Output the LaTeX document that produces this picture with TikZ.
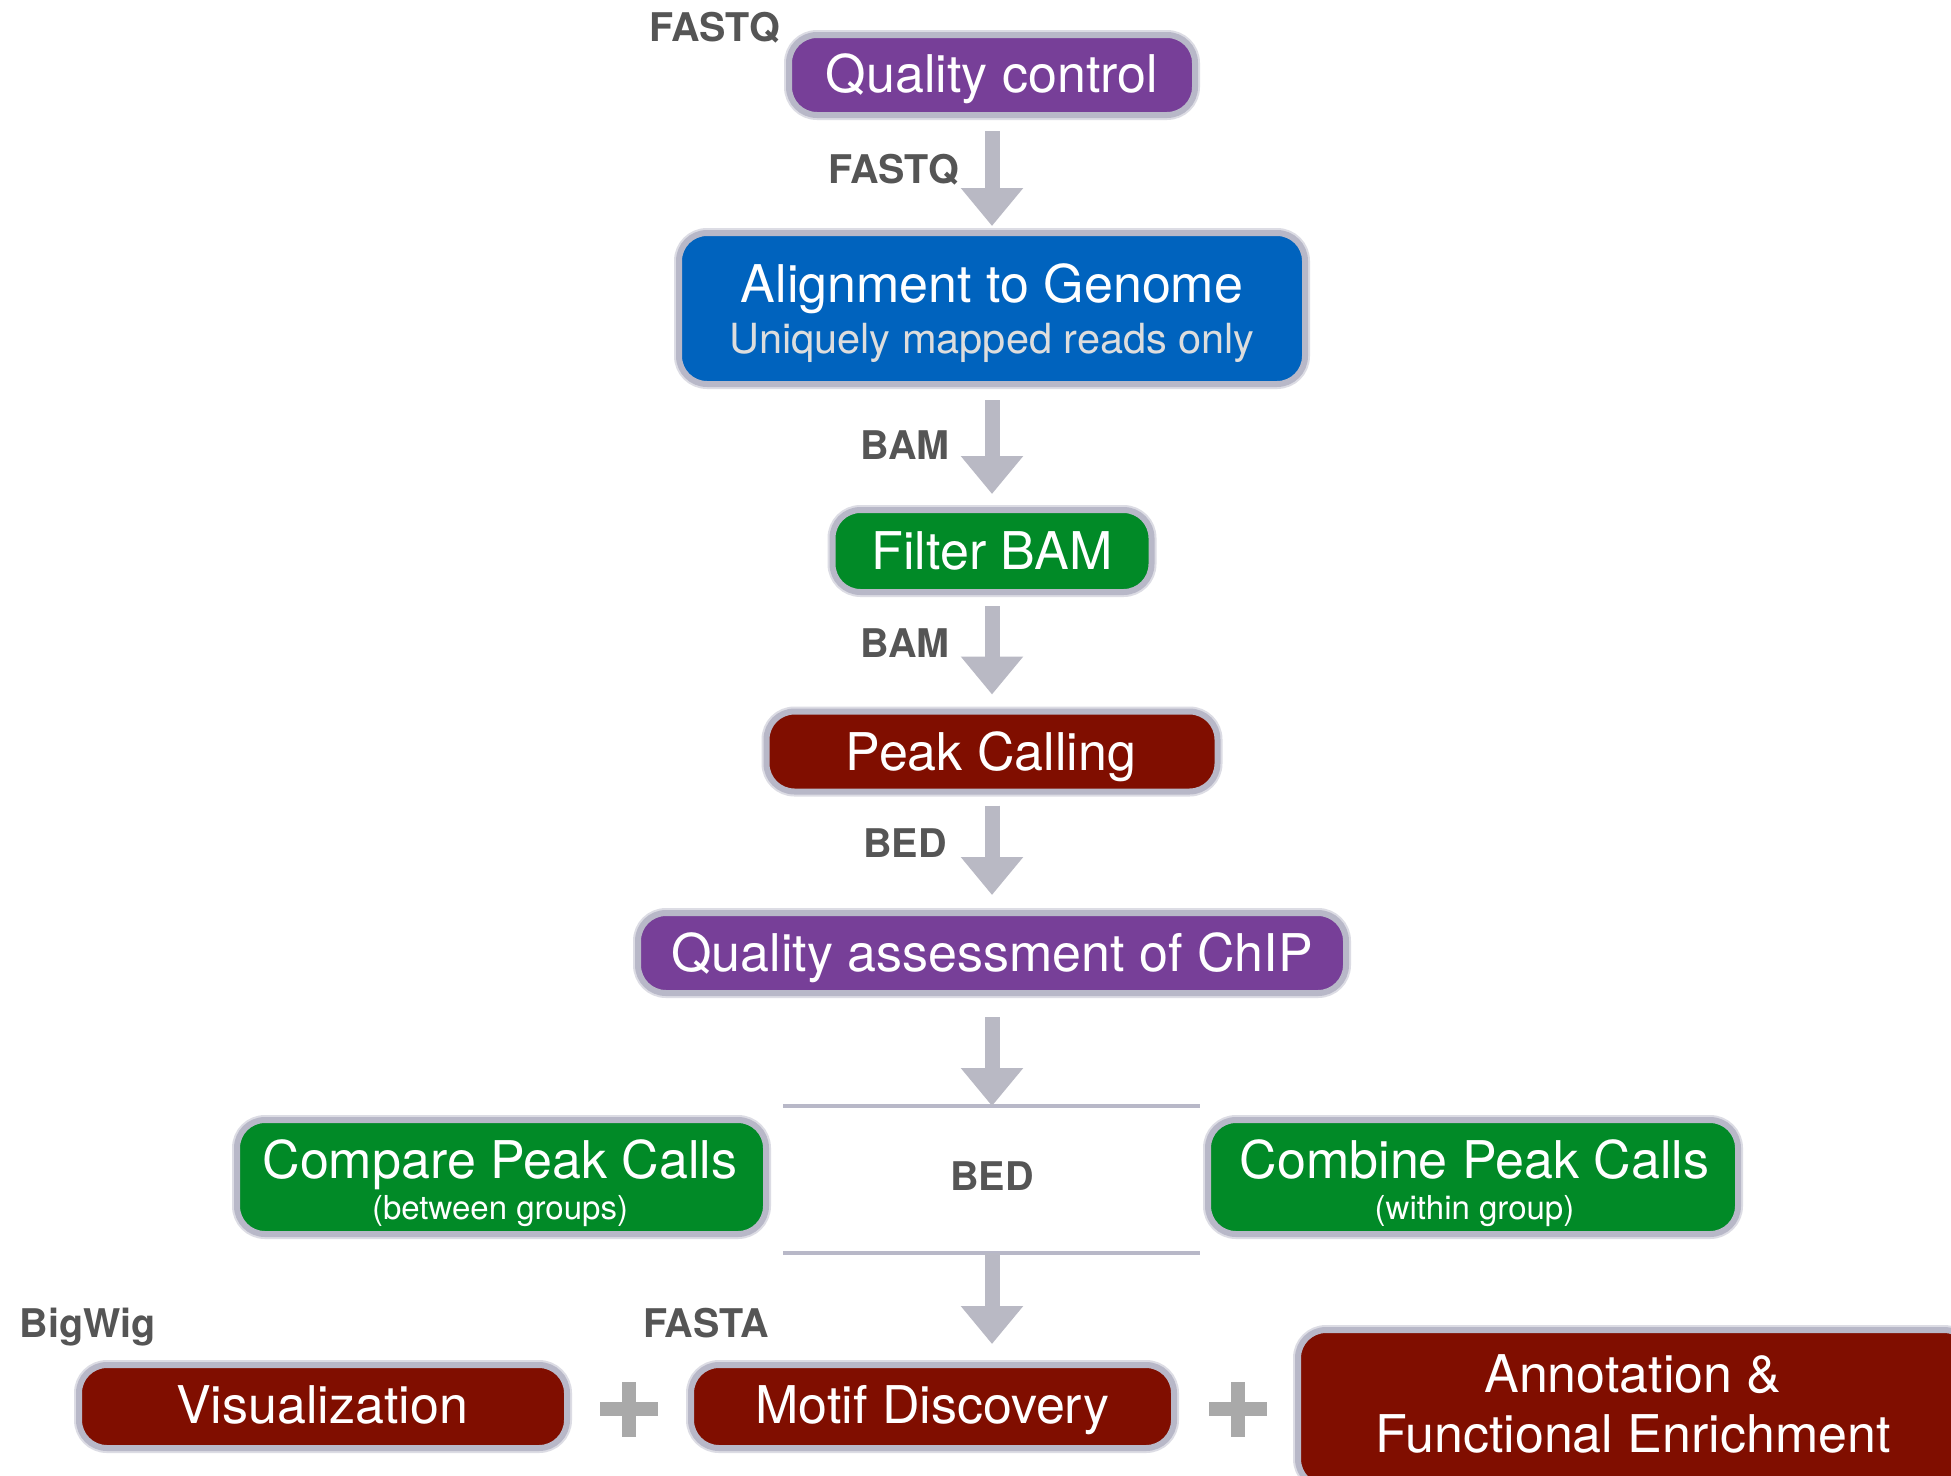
\documentclass[tikz,border=0pt]{standalone}
\usepackage{fontspec}
\setmainfont{TeX Gyre Heros}
\usetikzlibrary{arrows.meta}
\definecolor{qpurple}{HTML}{773F98}
\definecolor{qblue}{HTML}{0063BE}
\definecolor{qgreen}{HTML}{018A27}
\definecolor{qred}{HTML}{800E00}
\definecolor{rim}{HTML}{B8B8C8}
\definecolor{halo}{HTML}{DCDCE4}
\definecolor{flowgray}{HTML}{B9B9C4}
\definecolor{plusgray}{HTML}{A9A9A9}
\definecolor{labgray}{HTML}{555555}
\definecolor{subgray}{HTML}{DDDDDD}
\begin{document}
\begin{tikzpicture}[x=1pt,y=-1pt,
  box/.style={rounded corners=28pt, draw=rim, line width=6pt, fill=#1, inner sep=0pt,
              preaction={draw=halo, line width=10pt}},
  title/.style={text=white, font=\fontsize{52}{60}\selectfont, anchor=base, inner sep=0pt},
  subt/.style={text=subgray, font=\fontsize{41.5}{48}\selectfont, anchor=base, inner sep=0pt},
  smallt/.style={text=white, font=\fontsize{33}{40}\selectfont, anchor=base, inner sep=0pt},
  lab/.style={text=labgray, font=\bfseries\fontsize{39.5}{45}\selectfont, anchor=base, inner sep=0pt},
  flow/.style={draw=flowgray, line width=15pt, -{Triangle[width=60pt,length=38pt]}},
  hline/.style={draw=rim, line width=4pt},
  plus/.style={fill=plusgray}
]
\useasboundingbox (0,0) rectangle (1951,1475);
\clip (0,0) rectangle (1951,1475);
\fill[white] (0,0) rectangle (1951,1475);

% boxes
\node[box=qpurple, minimum width=406pt, minimum height=80pt] (qc) at (992,75) {};
\node[box=qblue, minimum width=626pt, minimum height=151pt] (align) at (992,308.5) {};
\node[box=qgreen, minimum width=319pt, minimum height=82pt] (filter) at (992,551) {};
\node[box=qred, minimum width=451pt, minimum height=80pt] (peak) at (992,751.5) {};
\node[box=qpurple, minimum width=708pt, minimum height=80pt] (qa) at (992,953) {};
\node[box=qgreen, minimum width=529pt, minimum height=114pt] (compare) at (501.5,1177) {};
\node[box=qgreen, minimum width=530pt, minimum height=114pt] (combine) at (1473,1177) {};
\node[box=qred, minimum width=488pt, minimum height=83pt] (vis) at (323,1406.5) {};
\node[box=qred, minimum width=483pt, minimum height=83pt] (motif) at (932.5,1406.5) {};
\node[box=qred, minimum width=674pt, minimum height=157pt] (annot) at (1635,1408.5) {};

% box texts
\node[title] (qc-t) at (992,92) {Quality control};
\node[title] (align-t) at (992,302) {Alignment to Genome};
\node[subt] (align-s) at (992,353) {Uniquely mapped reads only};
\node[title] (filter-t) at (992,569) {Filter BAM};
\node[title] (peak-t) at (991,770) {Peak Calling};
\node[title] (qa-t) at (992,971) {Quality assessment of ChIP};
\node[title] (compare-t) at (500,1178) {Compare Peak Calls};
\node[smallt] (compare-s) at (500,1219) {(between groups)};
\node[title] (combine-t) at (1474.5,1178) {Combine Peak Calls};
\node[smallt] (combine-s) at (1474.5,1219) {(within group)};
\node[title] (vis-t) at (322,1423) {Visualization};
\node[title] (motif-t) at (932.5,1423) {Motif Discovery};
\node[title] (annot-t1) at (1633,1392) {Annotation \&};
\node[title] (annot-t2) at (1633,1452) {Functional Enrichment};

% labels
\node[lab] (l-fastq1) at (715,41) {FASTQ};
\node[lab] (l-fastq2) at (894,183) {FASTQ};
\node[lab] (l-bam1) at (905,459) {BAM};
\node[lab] (l-bam2) at (905,657) {BAM};
\node[lab] (l-bed1) at (905,857) {BED};
\node[lab] (l-bed2) at (992,1190) {BED};
\node[lab] (l-bigwig) at (88,1337) {BigWig};
\node[lab] (l-fasta) at (706,1337) {FASTA};

% separator lines
\coordinate (tl) at (783,1106);
\coordinate (tr) at (1200,1106);
\coordinate (bl) at (783,1253);
\coordinate (br) at (1200,1253);
\coordinate (ltop) at (992,1106);
\coordinate (lbot) at (992,1253);
\draw[hline] (tl) -- (tr);
\draw[hline] (bl) -- (br);

% arrows
\draw[flow, shorten <=13pt, shorten >=4pt] (qc.south) -- (align.north);
\draw[flow, shorten <=13pt, shorten >=13pt] (align.south) -- (filter.north);
\draw[flow, shorten <=11pt, shorten >=14pt] (filter.south) -- (peak.north);
\draw[flow, shorten <=11pt, shorten >=15pt] (peak.south) -- (qa.north);
\draw[flow, shorten <=21pt] (qa.south) -- (ltop);
\draw[flow, shorten >=18pt] (lbot) -- (lbot |- motif.north);

% plus signs
\fill[plus] (600,1402) rectangle (658,1416);
\fill[plus] (622,1382) rectangle (636,1437);
\fill[plus] (1209,1402) rectangle (1267,1416);
\fill[plus] (1231,1382) rectangle (1245,1437);
\end{tikzpicture}
\end{document}
